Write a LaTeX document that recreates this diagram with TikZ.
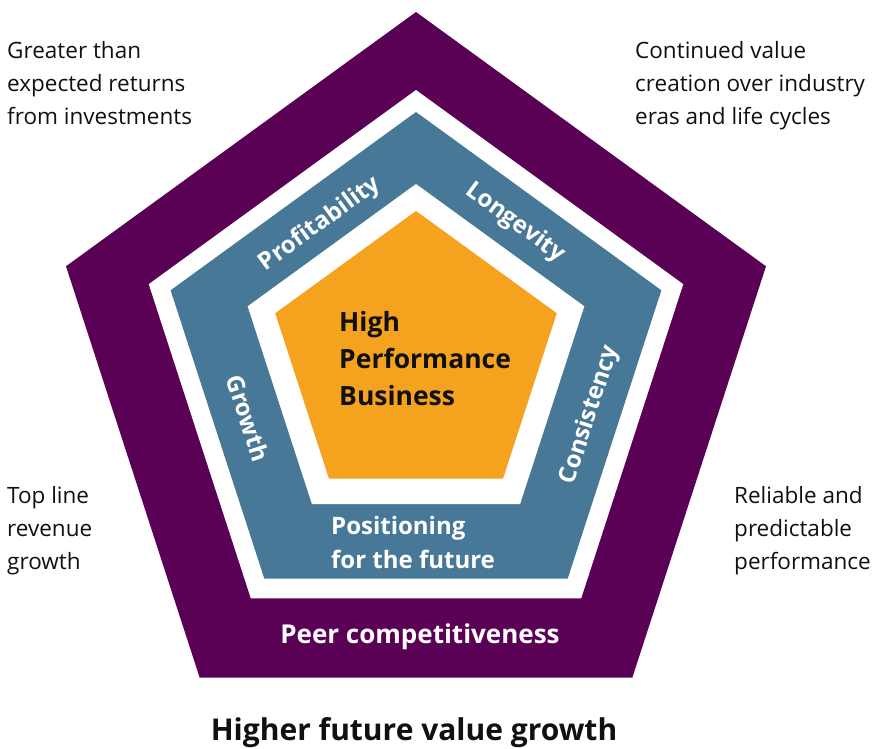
\documentclass[tikz,border=0pt]{standalone}
\usepackage{fontspec}
\setmainfont{Open Sans}
\usetikzlibrary{shapes.geometric}
\definecolor{plum}{HTML}{5A0055}
\definecolor{steel}{HTML}{477897}
\definecolor{amber}{HTML}{F5A21E}
\definecolor{ink}{HTML}{101010}

\begin{document}
\begin{tikzpicture}[
  x=1pt, y=-1pt,
  pent/.style={regular polygon, regular polygon sides=5, draw=none,
    inner sep=0pt, outer sep=0pt},
  note/.style={anchor=north west, align=left, inner sep=0pt, text=ink,
    font=\fontsize{22.5}{33}\selectfont},
  ring/.style={text=white, inner sep=0pt, font=\fontsize{24}{34}\selectfont\bfseries},
  core/.style={anchor=north west, align=left, inner sep=0pt, text=ink,
    font=\fontsize{26.5}{37}\selectfont\bfseries}
]
  \useasboundingbox (0,0) rectangle (875,749);
  % nested pentagons, outside in
  \node[pent, fill=plum, minimum size=736pt] (outer) at (416,380) {};
  \node[pent, fill=white, minimum size=562pt] (gapout) at (416,371) {};
  \node[pent, fill=steel, minimum size=516pt] (band) at (416,370) {};
  \node[pent, fill=white, minimum size=354pt] (gapin) at (416,361) {};
  \node[pent, fill=amber, minimum size=296pt] (hub) at (416,359) {};

  \node[core] (hpb) at (339,311) {High\\Performance\\Business};

  % labels on the blue band
  \node[ring, rotate=36] (profit) at (320,224) {Profitability};
  \node[ring, rotate=-36] (longev) at (515,223) {Longevity};
  \node[ring, rotate=-72] (growth) at (248,418) {Growth};
  \node[ring, rotate=72] (consist) at (590,415) {Consistency};
  \node[ring, anchor=north west, align=left] (posit) at (331,516) {Positioning\\for the future};

  \node[ring, font=\fontsize{26}{30}\selectfont\bfseries] (peer) at (420,637) {Peer competitiveness};

  % outcomes round the outside
  \node[note] (greater) at (7,41) {Greater than\\expected returns\\from investments};
  \node[note] (contin) at (635,41) {Continued value\\creation over industry\\eras and life cycles};
  \node[note] (topline) at (7,486) {Top line\\revenue\\growth};
  \node[note] (reliab) at (734,486) {Reliable and\\predictable\\performance};

  \node[text=ink, inner sep=0pt, font=\fontsize{30}{34}\selectfont\bfseries]
    (value) at (414,733) {Higher future value growth};
\end{tikzpicture}
\end{document}
